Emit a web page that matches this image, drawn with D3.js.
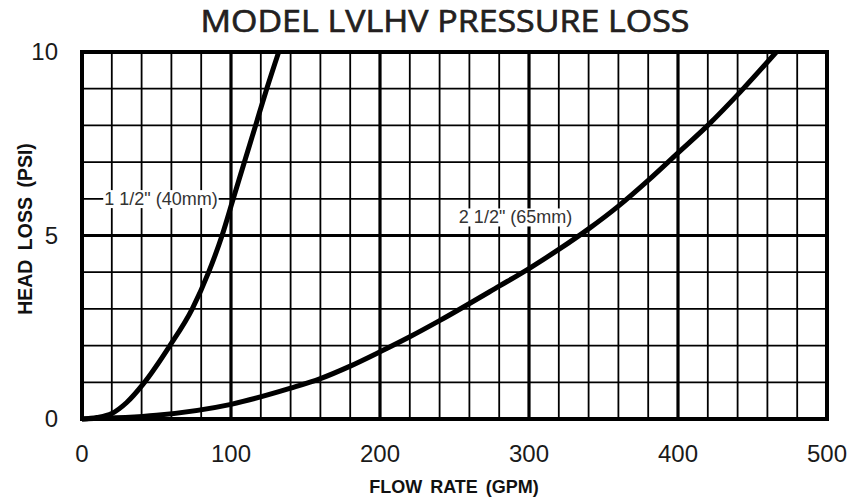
<!DOCTYPE html>
<html>
<head>
<meta charset="utf-8">
<script src="https://cdn.jsdelivr.net/npm/d3@7"></script>
<style>
    body { margin: 0; background: #fff; }
    svg { display: block; }
    .tick-label { font-family: "Liberation Sans", Arial, sans-serif; font-size: 24px; fill: #1a1a1a; }
    .axis-title { font-family: "Liberation Sans", Arial, sans-serif; font-weight: bold; fill: #111; }
    .curve-label { font-family: "Liberation Sans", Arial, sans-serif; font-size: 18px; fill: #333; }
</style>
</head>
<body>
<svg id="chart" width="851" height="500"></svg>
<script>
// chart values
var xTicks = [0, 100, 200, 300, 400, 500];
var yTicks = [0, 5, 10];

// 1 1/2" (40mm)
var flowSmall = [0, 10, 20, 30, 41, 59, 74, 85, 94, 101.5, 109, 116.5, 124, 132];
var headSmall = [0, 0.04, 0.15, 0.45, 0.95, 2, 3, 4, 5, 6, 7, 8, 9, 10];

// 2 1/2" (65mm)
var flowLarge = [0, 50, 100, 140, 160, 180, 200, 220, 240, 280, 300, 320, 340, 360, 380, 400, 420, 442, 466];
var headLarge = [0, 0.1, 0.4, 0.84, 1.1, 1.44, 1.83, 2.24, 2.68, 3.62, 4.1, 4.62, 5.18, 5.8, 6.5, 7.25, 8.0, 8.92, 10];

var curveLabels = [
    { text: "1 1/2\" (40mm)", flow: 53, head: 6.0 },
    { text: "2 1/2\" (65mm)", flow: 291, head: 5.5 }
];

var svg = d3.select("#chart");

var xScale = d3.scaleLinear().domain([0, 500]).range([82, 827]);
var yScale = d3.scaleLinear().domain([0, 10]).range([419, 52]);

// grid: verticals every 20 GPM, horizontals every 1 PSI
var grid = svg.append("g");
grid.selectAll("line.v")
    .data(d3.range(20, 500, 20))
    .enter()
    .append("line")
    .attr("x1", function(d) { return xScale(d); })
    .attr("x2", function(d) { return xScale(d); })
    .attr("y1", yScale(0))
    .attr("y2", yScale(10))
    .attr("stroke", "#000")
    .attr("stroke-width", function(d) { return d % 100 == 0 ? 3.2 : 1.8; });

grid.selectAll("line.h")
    .data(d3.range(1, 10, 1))
    .enter()
    .append("line")
    .attr("x1", xScale(0))
    .attr("x2", xScale(500))
    .attr("y1", function(d) { return yScale(d); })
    .attr("y2", function(d) { return yScale(d); })
    .attr("stroke", "#000")
    .attr("stroke-width", function(d) { return d % 5 == 0 ? 3.2 : 1.8; });

// curve labels sit on white boxes over the grid
var labelG = svg.append("g");
curveLabels.forEach(function(l) {
    var t = labelG.append("text")
        .attr("class", "curve-label")
        .attr("x", xScale(l.flow))
        .attr("y", yScale(l.head))
        .attr("dy", "0.35em")
        .attr("text-anchor", "middle")
        .text(l.text);
    var bb = t.node().getBBox();
    labelG.insert("rect", "text")
        .attr("x", bb.x - 1)
        .attr("y", bb.y + 1)
        .attr("width", bb.width + 2)
        .attr("height", bb.height - 2)
        .attr("fill", "#fff");
});

// curves
var line = d3.line()
    .x(function(d) { return xScale(d[0]); })
    .y(function(d) { return yScale(d[1]); })
    .curve(d3.curveMonotoneX);

var curves = [d3.zip(flowSmall, headSmall), d3.zip(flowLarge, headLarge)];
svg.append("g")
    .selectAll("path")
    .data(curves)
    .enter()
    .append("path")
    .attr("d", line)
    .attr("fill", "none")
    .attr("stroke", "#000")
    .attr("stroke-width", 5);

// frame
svg.append("rect")
    .attr("x", xScale(0))
    .attr("y", yScale(10))
    .attr("width", xScale(500) - xScale(0))
    .attr("height", yScale(0) - yScale(10))
    .attr("fill", "none")
    .attr("stroke", "#000")
    .attr("stroke-width", 4);

// tick labels
svg.append("g")
    .selectAll("text")
    .data(xTicks)
    .enter()
    .append("text")
    .attr("class", "tick-label")
    .attr("x", function(d) { return xScale(d); })
    .attr("y", 462)
    .attr("text-anchor", "middle")
    .text(function(d) { return d; });

svg.append("g")
    .selectAll("text")
    .data(yTicks)
    .enter()
    .append("text")
    .attr("class", "tick-label")
    .attr("x", 58)
    .attr("y", function(d) { return yScale(d); })
    .attr("dy", "0.35em")
    .attr("text-anchor", "end")
    .text(function(d) { return d; });

// titles
svg.append("text")
    .attr("x", 445)
    .attr("y", 32)
    .attr("text-anchor", "middle")
    .attr("textLength", 489)
    .attr("lengthAdjust", "spacingAndGlyphs")
    .style("font-family", "'Open Sans', sans-serif")
    .style("font-size", "31px")
    .style("font-weight", 400)
    .style("fill", "#231f20")
    .style("stroke", "#231f20")
    .style("stroke-width", 0.7)
    .text("MODEL LVLHV PRESSURE LOSS");

svg.append("text")
    .attr("class", "axis-title")
    .attr("x", 454)
    .attr("y", 493)
    .attr("text-anchor", "middle")
    .style("font-size", "18px")
    .style("word-spacing", "3px")
    .text("FLOW RATE (GPM)");

svg.append("text")
    .attr("class", "axis-title")
    .attr("transform", "translate(32,229) rotate(-90)")
    .attr("text-anchor", "middle")
    .style("font-size", "19.5px")
    .style("word-spacing", "4px")
    .text("HEAD LOSS (PSI)");
</script>
</body>
</html>
